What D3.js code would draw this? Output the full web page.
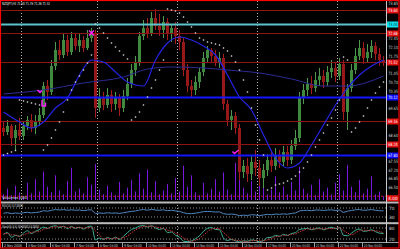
<!DOCTYPE html>
<html><head><meta charset="utf-8">
<script src="https://cdn.jsdelivr.net/npm/d3@7"></script>
<style>
html,body{margin:0;padding:0;background:#000;}
svg{display:block;}
text{font-family:"DejaVu Sans",sans-serif;}
</style></head><body>
<script>
const W = 400, H = 249;

// ---- data ----
const symbol = "NZDJPY,H4";
const opens = [68.88,68.72,68.96,68.48,68.80,68.56,68.96,69.20,68.88,69.12,
  69.40,70.56,70.32,71.36,72.00,71.80,72.40,71.92,72.48,72.16,
  72.40,72.08,72.48,72.64,69.68,70.08,69.80,70.20,69.84,70.08,
  69.68,70.16,70.64,71.20,71.52,72.56,72.88,72.64,73.28,72.96,
  72.80,73.12,72.64,72.88,72.56,72.32,71.20,70.56,70.40,70.72,
  71.12,71.68,72.00,71.76,71.52,71.68,69.84,69.20,69.36,68.88,
  67.12,67.36,67.04,67.52,67.28,66.88,67.20,67.60,67.36,67.76,
  67.52,67.92,67.60,68.16,68.48,70.08,70.40,70.64,70.48,70.80,
  70.96,70.72,71.12,71.28,70.96,71.44,69.52,70.48,71.20,71.76,
  72.08,71.68,71.92,72.16,71.84,71.60];
const highs = [69.12,69.20,69.04,69.00,69.28,69.12,69.36,69.44,69.40,69.68,
  70.72,70.80,71.60,72.32,72.40,72.64,72.60,72.72,72.64,72.68,
  72.56,72.80,72.88,72.80,70.48,70.32,70.48,70.40,70.32,70.24,
  70.40,70.88,71.44,71.76,72.72,73.20,73.28,73.52,73.64,73.44,
  73.36,73.28,73.04,73.12,72.80,72.48,71.44,70.80,70.96,71.28,
  71.92,72.16,72.08,72.00,71.92,71.84,70.00,69.60,69.52,69.04,
  67.60,67.68,67.76,68.00,67.60,67.44,67.84,68.00,68.08,68.00,
  68.16,68.16,68.40,68.80,70.32,70.64,70.88,70.96,71.12,71.28,
  71.20,71.36,71.60,71.52,71.68,71.60,70.64,71.44,72.08,72.40,
  72.32,72.24,72.40,72.32,72.08,71.76];
const lows = [68.56,68.60,68.16,68.00,68.40,68.40,68.80,68.72,68.64,68.96,
  69.28,70.00,70.20,71.20,71.60,71.68,71.76,71.80,72.00,71.92,
  71.92,72.00,72.32,69.28,69.52,69.60,69.68,69.52,69.60,69.36,
  69.52,70.00,70.48,70.96,71.36,72.40,72.48,72.56,72.80,72.56,
  72.48,72.40,72.32,72.24,72.00,70.96,70.32,70.12,70.20,70.48,
  70.96,71.52,71.52,71.36,71.28,69.60,68.96,68.80,68.64,66.80,
  66.88,66.72,66.80,66.96,66.56,66.48,66.96,67.12,67.20,67.28,
  67.36,67.36,67.44,68.00,68.32,69.84,70.16,70.24,70.32,70.56,
  70.48,70.56,70.88,70.72,70.80,69.20,68.80,70.32,71.04,71.60,
  71.44,71.52,71.68,71.60,71.36,71.36];
const closes = [68.72,68.96,68.48,68.80,68.56,68.96,69.20,68.88,69.12,69.40,
  70.56,70.32,71.36,72.00,71.80,72.40,71.92,72.48,72.16,72.40,
  72.08,72.48,72.64,69.68,70.08,69.80,70.20,69.84,70.08,69.68,
  70.16,70.64,71.20,71.52,72.56,72.88,72.64,73.28,72.96,72.80,
  73.12,72.64,72.88,72.56,72.32,71.20,70.56,70.40,70.72,71.12,
  71.68,72.00,71.76,71.52,71.68,69.84,69.20,69.36,68.88,67.12,
  67.36,67.04,67.52,67.28,66.88,67.20,67.60,67.36,67.76,67.52,
  67.92,67.60,68.16,68.48,70.08,70.40,70.64,70.48,70.80,70.96,
  70.72,71.12,71.28,70.96,71.44,69.52,70.48,71.20,71.76,72.08,
  71.68,71.92,72.16,71.84,71.60,71.52];
const volumes = [600,1200,500,1500,800,400,1800,700,2200,900,
  3000,1400,800,2600,1000,600,2000,3400,900,1200,
  700,2400,1600,3800,1100,600,1500,800,500,1900,
  700,1300,2100,900,2800,1200,3200,800,2000,600,
  1000,1700,700,2300,900,3600,1400,2600,800,500,
  1800,700,1200,2200,900,2900,1100,600,3900,2400,
  1300,700,2000,900,3000,1500,600,1100,2500,800,
  1400,600,1900,1000,3500,1200,700,1600,500,2200,
  900,1300,600,1800,2700,1000,3700,1400,800,2100,
  700,1200,2500,600,900,400];
const sar = [67.80,67.86,67.92,67.98,70.00,69.96,69.92,69.88,69.84,69.80,
  68.00,68.20,68.48,68.80,69.12,69.52,70.00,70.40,70.72,70.96,
  71.20,71.48,71.80,73.04,72.88,72.68,72.48,72.28,72.12,71.96,
  71.80,71.64,69.20,69.32,69.52,69.80,70.12,70.48,70.80,71.20,
  71.60,73.64,73.60,73.56,73.48,73.32,73.12,72.92,72.68,72.48,
  72.40,72.32,72.28,72.24,72.20,72.08,71.96,71.76,71.52,71.20,
  70.80,70.32,69.68,69.00,68.40,67.80,66.40,66.48,66.60,66.64,
  66.68,66.76,66.84,66.96,67.12,67.28,67.52,67.80,68.12,68.40,
  68.68,69.00,69.28,69.60,70.00,71.72,71.60,68.72,68.88,69.12,
  69.36,69.68,70.00,70.28,70.52,70.72];
const rsi = [47,49,45,48,46,49,51,48,50,52,
  58,56,60,63,61,63,60,62,60,61,
  58,61,62,45,48,46,49,47,48,46,
  49,52,55,57,61,63,60,64,61,60,
  62,58,60,57,55,49,45,45,47,50,
  54,55,54,52,53,45,42,43,41,36,
  38,37,40,39,36,39,42,40,43,42,
  44,42,46,48,57,59,60,58,61,61,
  59,61,62,59,61,50,56,59,62,63,
  60,61,63,60,58,57];
const stochMain = [45,55,30,40,35,52,65,50,62,72,
  85,78,88,92,82,90,76,88,78,84,
  74,86,90,15,25,18,28,20,30,18,
  35,55,72,80,90,93,85,92,80,72,
  78,55,58,40,30,8,6,10,22,38,
  62,78,82,72,70,25,12,18,10,4,
  10,8,15,12,5,12,28,30,40,35,
  45,40,50,55,72,75,78,70,76,80,
  70,78,84,76,82,40,38,52,68,74,
  62,64,70,60,52,50];
const stochSignal = [48,50,43,42,35,42,51,56,59,61,
  73,78,84,86,87,88,83,85,81,83,
  79,81,83,64,43,19,24,22,26,23,
  28,36,54,69,81,88,89,90,86,81,
  77,68,64,51,43,26,15,8,13,23,
  41,59,74,77,75,56,36,18,13,11,
  8,7,11,12,11,10,15,23,33,35,
  40,40,45,48,59,67,75,74,75,75,
  75,76,77,79,81,66,53,43,53,65,
  68,67,65,65,61,54];
const fastMaIdx = [0,4,7,10,13,16,19,22,25,28,31,35,38,41,44,47,50,53,56,59,62,65,68,71,74,77,80,83,86,89,92,95];
const fastMa = [69.52,69.12,68.88,69.12,69.68,70.08,71.00,71.60,71.52,71.12,70.72,70.56,71.60,72.28,72.52,72.40,
  72.16,71.80,71.00,70.12,69.60,68.60,67.68,67.28,67.48,68.20,69.00,69.80,70.48,71.00,71.36,71.60];
const slowMaIdx = [0,10,20,30,36,42,50,56,64,72,80,86,95];
const slowMa = [70.24,70.40,70.68,70.92,71.24,71.32,71.28,71.20,71.08,70.84,70.56,70.56,70.96];
const levelPrices = [73.60,73.04,72.68,71.52,70.12,69.16,68.24,67.80];
const levelKinds = ["red","cyan","red","red","blue","red","red","blue"];
const priceTicks = [73.85,73.50,73.15,72.80,72.45,72.10,71.75,71.40,71.05,70.70,70.35,70.00,
  69.65,69.30,68.95,68.60,68.25,67.90,67.55,67.20,66.85,66.50,66.15];
const separatorIdx = [5,24,44,64,84];
const timeLabelIdx = [0,6,12,18,24,30,36,42,48,54,60,66,72,78,84,90];
const timeLabels = ["2 Nov 2006","3 Nov 04:00","6 Nov 04:00","7 Nov 04:00","8 Nov 04:00","9 Nov 04:00",
  "10 Nov 04:00","13 Nov 04:00","14 Nov 04:00","15 Nov 04:00","16 Nov 04:00","17 Nov 04:00",
  "20 Nov 04:00","21 Nov 04:00","22 Nov 04:00","23 Nov 04:00"];
const markIdx = [9,10,22,58];
const markPrice = [70.32,69.88,72.68,67.92];
const markKind = ["arrow","hook","cross","check"];
const volLevel = 400;
const rsiLevels = [70,30];
const stochLevels = [80,20];

// ---- scales ----
const idx = d3.range(closes.length);
const x = d3.scaleBand().domain(idx).range([2, 386]).paddingInner(0.25).paddingOuter(0.125);
const cx = i => Math.floor(x(i)) + 1.5;
const y = d3.scaleLinear().domain([66, 74]).range([200, 0]);
const yVol = d3.scaleLinear().domain([0, 4000]).range([200, 162]);
const yRsi = d3.scaleLinear().domain([0, 100]).range([223.75, 201.25]);
const ySto = d3.scaleLinear().domain([0, 100]).range([242.7, 224.3]);

const svg = d3.select('body').append('svg').attr('width', W).attr('height', H)
  .style('background', '#000');

const defs = svg.append('defs');
defs.append('clipPath').attr('id','cmain').append('rect').attr('x',1).attr('y',1).attr('width',385).attr('height',200);
defs.append('clipPath').attr('id','crsi').append('rect').attr('x',1).attr('y',203.5).attr('width',385).attr('height',18.5);
defs.append('clipPath').attr('id','csto').append('rect').attr('x',1).attr('y',224.5).attr('width',385).attr('height',17.5);

// day separators (dotted)
svg.selectAll('.sep').data(separatorIdx).enter().append('line')
  .attr('x1', d => Math.floor(x(d)) - 0.5).attr('x2', d => Math.floor(x(d)) - 0.5)
  .attr('y1', 1).attr('y2', 242)
  .attr('stroke', '#b0b0b0').attr('stroke-width', 1).attr('stroke-dasharray', '1,2');

const main = svg.append('g').attr('clip-path', 'url(#cmain)');

// volumes overlay
main.selectAll('.vol').data(idx).enter().append('line')
  .attr('x1', i => cx(i)).attr('x2', i => cx(i))
  .attr('y1', yVol(0)).attr('y2', i => yVol(volumes[i]))
  .attr('stroke', '#7a18e0').attr('stroke-width', 1);
main.append('line').attr('x1', 1).attr('x2', 386)
  .attr('y1', yVol(volLevel)).attr('y2', yVol(volLevel))
  .attr('stroke', '#c01818').attr('stroke-dasharray', '2,2');

// candles
const up = i => closes[i] >= opens[i];
main.selectAll('.wick').data(idx).enter().append('line')
  .attr('x1', i => cx(i)).attr('x2', i => cx(i))
  .attr('y1', i => y(highs[i])).attr('y2', i => y(lows[i]))
  .attr('stroke', i => up(i) ? '#4f9a4f' : '#a51d1d');
main.selectAll('.body').data(idx).enter().append('rect')
  .attr('x', i => Math.floor(x(i))).attr('width', 3)
  .attr('y', i => y(Math.max(opens[i], closes[i])))
  .attr('height', i => Math.max(1, Math.abs(y(opens[i]) - y(closes[i]))))
  .attr('fill', i => up(i) ? '#3f8a3f' : '#961818');

// horizontal levels
const lvlStroke = {red: '#8e1414', cyan: '#5cc3cc', blue: '#1414ff'};
const lvlWidth = {red: 1, cyan: 2, blue: 2};
main.selectAll('.lvl').data(levelPrices).enter().append('line')
  .attr('x1', 1).attr('x2', 386)
  .attr('y1', d => Math.round(y(d)) + 0.5).attr('y2', d => Math.round(y(d)) + 0.5)
  .attr('stroke', (d, k) => lvlStroke[levelKinds[k]])
  .attr('stroke-width', (d, k) => lvlWidth[levelKinds[k]]);

// moving averages
const line = d3.line().curve(d3.curveMonotoneX);
main.append('path')
  .attr('d', line(slowMaIdx.map((i, k) => [cx(i), y(slowMa[k])])))
  .attr('fill', 'none').attr('stroke', '#2c2c96').attr('stroke-width', 1);
main.append('path')
  .attr('d', line(fastMaIdx.map((i, k) => [cx(i), y(fastMa[k])])))
  .attr('fill', 'none').attr('stroke', '#2424e6').attr('stroke-width', 1.2);

// parabolic sar
main.selectAll('.sar').data(idx).enter().append('rect')
  .attr('x', i => cx(i) - 0.7).attr('y', i => y(sar[i]) - 0.7)
  .attr('width', 1.4).attr('height', 1.4).attr('fill', '#d4d4d4');

// magenta marks
const markPath = {
  arrow: 'M-2,-2L0.5,0.5L2.5,-1.5',
  hook: 'M-1.5,-3L-1.5,3L2,3L2,-0.5',
  cross: 'M-2.5,-2.5L2.5,2.5M2.5,-2.5L-2.5,2.5',
  check: 'M-3,-0.5L-1,1.5L3,-2'
};
main.selectAll('.mark').data(markIdx).enter().append('path')
  .attr('transform', (d, k) => `translate(${cx(d)},${y(markPrice[k])})`)
  .attr('d', (d, k) => markPath[markKind[k]])
  .attr('fill', 'none').attr('stroke', '#ff20ff').attr('stroke-width', 1.4);

// rsi panel
const rsiG = svg.append('g').attr('clip-path', 'url(#crsi)');
rsiG.selectAll('.rl').data(rsiLevels).enter().append('line')
  .attr('x1', 1).attr('x2', 386).attr('y1', d => yRsi(d)).attr('y2', d => yRsi(d))
  .attr('stroke', '#8c8c8c').attr('stroke-dasharray', '1,2');
rsiG.append('path')
  .attr('d', d3.line()(idx.map(i => [cx(i), yRsi(rsi[i])])))
  .attr('fill', 'none').attr('stroke', '#4f88c0').attr('stroke-width', 1);

// stochastic panel
const stoG = svg.append('g').attr('clip-path', 'url(#csto)');
stoG.selectAll('.sl').data(stochLevels).enter().append('line')
  .attr('x1', 1).attr('x2', 386).attr('y1', d => ySto(d)).attr('y2', d => ySto(d))
  .attr('stroke', '#8c8c8c').attr('stroke-dasharray', '1,2');
stoG.append('path')
  .attr('d', d3.line().curve(d3.curveMonotoneX)(idx.map(i => [cx(i), ySto(stochMain[i])])))
  .attr('fill', 'none').attr('stroke', '#3cb39a').attr('stroke-width', 1);
stoG.append('path')
  .attr('d', d3.line().curve(d3.curveMonotoneX)(idx.map(i => [cx(i), ySto(stochSignal[i])])))
  .attr('fill', 'none').attr('stroke', '#c83232').attr('stroke-width', 1).attr('stroke-dasharray', '1.5,1');

// panel frames
svg.append('rect').attr('x', 1).attr('y', 201.5).attr('width', 398).attr('height', 2).attr('fill', '#bcbcbc');
svg.append('rect').attr('x', 1).attr('y', 222.2).attr('width', 398).attr('height', 2).attr('fill', '#bcbcbc');
svg.append('line').attr('x1', 1).attr('x2', 399).attr('y1', 242.5).attr('y2', 242.5).attr('stroke', '#a0a0a0');
svg.append('line').attr('x1', 386.5).attr('x2', 386.5).attr('y1', 1).attr('y2', 242.5).attr('stroke', '#c8c8c8');

// price axis: plain ticks are hidden where a level tag sits on top of them
const tagYs = levelPrices.map(p => y(p)).concat([yVol(volLevel) + 2]);
const freeTicks = priceTicks.filter(t => tagYs.every(ty => Math.abs(y(t) - ty) > 5.5));
const axisG = svg.append('g');
axisG.selectAll('.pt').data(freeTicks).enter().append('text')
  .attr('x', 388.5).attr('y', d => y(d) + 1.6)
  .attr('font-size', 4.4).attr('fill', '#d8d8d8')
  .attr('textLength', 9.5).attr('lengthAdjust', 'spacingAndGlyphs')
  .text(d => d.toFixed(2));
const lblFill = {red: '#e21010', cyan: '#10e4f0', blue: '#0a0aff'};
const lblText = {red: '#ffffff', cyan: '#003a44', blue: '#ffffff'};
const lvlLabels = axisG.selectAll('.ll').data(levelPrices).enter().append('g')
  .attr('transform', d => `translate(387,${Math.round(y(d)) + 0.5})`);
lvlLabels.append('rect').attr('x', 0).attr('y', -3).attr('width', 11.5).attr('height', 6)
  .attr('fill', (d, k) => lblFill[levelKinds[k]]);
lvlLabels.append('text').attr('x', 1.2).attr('y', 1.7)
  .attr('font-size', 4.4).attr('fill', (d, k) => lblText[levelKinds[k]])
  .attr('textLength', 9.5).attr('lengthAdjust', 'spacingAndGlyphs')
  .text(d => d.toFixed(2));
const vl = axisG.append('g').attr('transform', `translate(387,${yVol(volLevel) + 2})`);
vl.append('rect').attr('x', 0).attr('y', -3).attr('width', 11.5).attr('height', 6).attr('fill', '#e21010');
vl.append('text').attr('x', 1.2).attr('y', 1.7).attr('font-size', 4.4).attr('fill', '#fff')
  .attr('textLength', 9.5).attr('lengthAdjust', 'spacingAndGlyphs').text(d3.format('.2f')(volLevel / 100));

// indicator scale labels
axisG.selectAll('.rt').data(rsiLevels).enter().append('text')
  .attr('x', 389).attr('y', d => yRsi(d) + 1.6).attr('font-size', 4.4).attr('fill', '#d8d8d8').text(d => d);
axisG.selectAll('.st').data(stochLevels).enter().append('text')
  .attr('x', 389).attr('y', d => ySto(d) + 1.6).attr('font-size', 4.4).attr('fill', '#d8d8d8').text(d => d);

// time axis
const tG = svg.append('g');
tG.selectAll('.tk').data(timeLabelIdx).enter().append('line')
  .attr('x1', d => Math.floor(x(d)) + 0.5).attr('x2', d => Math.floor(x(d)) + 0.5)
  .attr('y1', 243).attr('y2', 247.5).attr('stroke', '#a0a0a0');
tG.selectAll('.tl').data(timeLabelIdx).enter().append('text')
  .attr('x', d => Math.floor(x(d)) + 2).attr('y', 246.8)
  .attr('font-size', 3.8).attr('fill', '#d0d0d0')
  .attr('textLength', 18).attr('lengthAdjust', 'spacingAndGlyphs')
  .text((d, k) => timeLabels[k]);

// captions
const last = closes.length - 1;
svg.append('text').attr('x', 2).attr('y', 5.2).attr('font-size', 4.2).attr('fill', '#f0f0f0')
  .attr('textLength', 48).attr('lengthAdjust', 'spacingAndGlyphs')
  .text(`${symbol} ${opens[last].toFixed(2)} ${highs[last].toFixed(2)} ${lows[last].toFixed(2)} ${closes[last].toFixed(2)}`);
svg.append('text').attr('x', 2).attr('y', 199).attr('font-size', 3.8).attr('fill', '#e0e0e0')
  .attr('textLength', 25).attr('lengthAdjust', 'spacingAndGlyphs')
  .text(`Volumes ${volumes[last]}`);
svg.append('text').attr('x', 2).attr('y', 207.2).attr('font-size', 3.8).attr('fill', '#e0e0e0')
  .attr('textLength', 21).attr('lengthAdjust', 'spacingAndGlyphs')
  .text(`RSI(14) ${rsi[last].toFixed(4)}`);
svg.append('text').attr('x', 2).attr('y', 228.2).attr('font-size', 3.8).attr('fill', '#e0e0e0')
  .attr('textLength', 37).attr('lengthAdjust', 'spacingAndGlyphs')
  .text(`Stoch(5,3,3) ${stochMain[last].toFixed(4)} ${stochSignal[last].toFixed(4)}`);

// outer red frame
svg.append('rect').attr('x', 0.5).attr('y', 0.5).attr('width', 398.5).attr('height', 247.5)
  .attr('fill', 'none').attr('stroke', '#ff0000').attr('stroke-width', 1.2);
</script>
</body></html>
